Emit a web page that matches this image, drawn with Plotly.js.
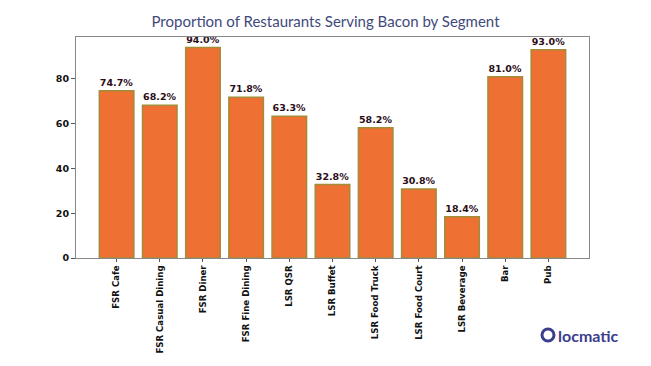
<!DOCTYPE html>
<html>
<head>
<meta charset="utf-8">
<script src="https://cdn.plot.ly/plotly-3.0.1.min.js"></script>
<style>html,body{margin:0;padding:0;background:#fff;}#chart{width:651px;height:366px;}</style>
</head>
<body>
<div id="chart"></div>
<script>
const segments = ["FSR Cafe","FSR Casual Dining","FSR Diner","FSR Fine Dining","LSR QSR","LSR Buffet","LSR Food Truck","LSR Food Court","LSR Beverage","Bar","Pub"];
const baconPct = [74.7, 68.2, 94.0, 71.8, 63.3, 32.8, 58.2, 30.8, 18.4, 81.0, 93.0];
const yTicks = [0, 20, 40, 60, 80];

const trace = {
  type: 'bar',
  x: segments,
  y: baconPct,
  width: 0.8,
  marker: {color: '#EE7133', line: {color: '#A38C3A', width: 1.5}},
  text: baconPct.map(v => '<b>' + v.toFixed(1) + '%</b>'),
  textposition: 'outside',
  cliponaxis: false,
  textfont: {family: 'DejaVu Sans', size: 9.5, color: '#2b0c18'},
  hoverinfo: 'none'
};

const layout = {
  width: 651, height: 366,
  margin: {l: 76, r: 62, t: 37, b: 108},
  paper_bgcolor: '#fff', plot_bgcolor: '#fff',
  showlegend: false,
  title: {text: 'Proportion of Restaurants Serving Bacon by Segment', x: 0.5, xanchor: 'center', y: 0.94, yanchor: 'middle',
          font: {family: 'Lato', size: 15, color: '#3f4a7c'}},
  xaxis: {
    range: [-0.94, 10.94], showgrid: false, zeroline: false,
    showline: true, linecolor: '#888', linewidth: 1, mirror: true,
    ticks: 'outside', ticklen: 3, tickcolor: '#555',
    tickangle: -90,
    tickfont: {family: 'DejaVu Sans', size: 8.6, color: '#111', weight: 'bold'}
  },
  yaxis: {
    range: [0, 98.7], showgrid: false, zeroline: false,
    showline: true, linecolor: '#888', linewidth: 1, mirror: true,
    ticks: 'outside', ticklen: 4, tickcolor: '#555',
    tickvals: yTicks, ticktext: yTicks.map(String),
    tickfont: {family: 'DejaVu Sans', size: 9.5, color: '#111', weight: 'bold'}
  },
  shapes: [
    {type: 'circle', xref: 'paper', yref: 'paper', xsizemode: 'pixel', ysizemode: 'pixel',
     xanchor: 1.0 - (651-548-62)/513, yanchor: (366-108-335)/221, x0: -6, x1: 6, y0: -6, y1: 6,
     line: {color: '#3b3e8c', width: 3}, fillcolor: 'rgba(0,0,0,0)'}
  ],
  annotations: [
    {text: 'locmatic', xref: 'paper', yref: 'paper',
     x: 1.0 - (651-556-62)/513, y: (366-108-335)/221, xanchor: 'left', yanchor: 'middle',
     showarrow: false, font: {family: 'Lato', size: 16, color: '#3b3e8c', weight: 'bold'}}
  ]
};

Plotly.newPlot('chart', [trace], layout, {displayModeBar: false, staticPlot: true});
</script>
</body>
</html>
